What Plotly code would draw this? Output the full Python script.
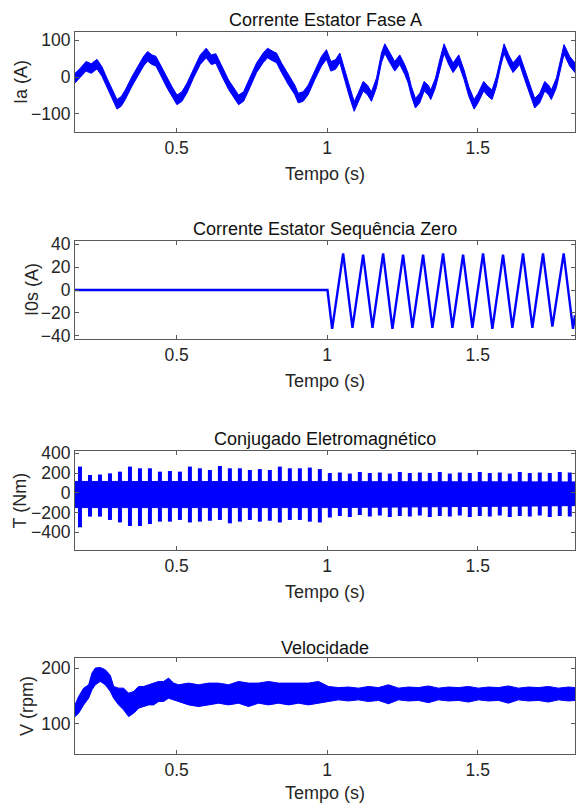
import plotly.graph_objects as go

# ------------------------------------------------------------------ data
# Panel 1: stator current phase A (centre of the band, A) and ripple half-width
ia_t = [0.1625, 0.1802, 0.1990, 0.2167, 0.2355, 0.2521, 0.2687, 0.2853, 0.3019, 0.3162,
        0.3295, 0.3516, 0.3738, 0.3904, 0.4036, 0.4180, 0.4313, 0.4457, 0.4678, 0.4844,
        0.5010, 0.5176, 0.5342, 0.5563, 0.5784, 0.5983, 0.6149, 0.6304, 0.6503, 0.6725,
        0.6946, 0.7057, 0.7223, 0.7433, 0.7654, 0.7875, 0.8019, 0.8207, 0.8318, 0.8484,
        0.8705, 0.8926, 0.9037, 0.9203, 0.9369, 0.9590, 0.9811, 0.9977, 1.0121, 1.0276,
        1.0420, 1.0586, 1.0752, 1.0896, 1.1029, 1.1194, 1.1338, 1.1471, 1.1637, 1.1803,
        1.1914, 1.2079, 1.2245, 1.2411, 1.2577, 1.2688, 1.2798, 1.2931, 1.3075, 1.3219,
        1.3351, 1.3440, 1.3595, 1.3739, 1.3882, 1.4037, 1.4181, 1.4369, 1.4546, 1.4701,
        1.4878, 1.5011, 1.5199, 1.5343, 1.5476, 1.5619, 1.5763, 1.5874, 1.6029, 1.6173,
        1.6394, 1.6560, 1.6726, 1.6891, 1.7058, 1.7224, 1.7356, 1.7445, 1.7611, 1.7755,
        1.7865, 1.8053, 1.8230]
ia_mid = [-3, 11, 29, 23, 35, 15, -16, -44, -74, -66,
          -48, -12, 20, 43, 56, 47, 43, 20, -16, -39,
          -62, -53, -30, 11, 47, 65, 47, 50, 15, -21,
          -48, -62, -53, -16, 25, 52, 65, 56, 52, 25,
          -7, -35, -57, -53, -35, 6, 43, 61, 29, 34,
          52, 6, -44, -80, -57, -25, -35, -53, -16, 52,
          77, 52, 29, 47, 20, -3, -39, -71, -57, -25,
          -35, -48, -16, 34, 77, 47, 25, 47, 6, -39,
          -74, -57, -25, -39, -48, -12, 43, 77, 47, 25,
          47, 6, -35, -71, -57, -25, -35, -48, -16, 34,
          75, 43, 25]
ia_ripple = 13

# Panel 2: zero-sequence stator current (A)
i0_t = [0.1625, 1.0010, 1.0165, 1.0530, 1.0840, 1.1194, 1.1504, 1.1858, 1.2167, 1.2521,
        1.2831, 1.3185, 1.3495, 1.3849, 1.4159, 1.4513, 1.4822, 1.5177, 1.5486, 1.5840,
        1.6150, 1.6504, 1.6814, 1.7168, 1.7478, 1.7854, 1.8164, 1.8230]
i0_val = [0, 0, -34, 32, -33, 31, -33, 32, -34, 31,
          -33, 31, -33, 32, -33, 31, -33, 32, -34, 31,
          -33, 32, -33, 32, -32, 32, -34, -22]

# Panel 3: electromagnetic torque – core band and spike tops / bottoms (Nm)
tq_core_t = [0.1625, 1.0000, 1.8230]
tq_core_hi = [115, 115, 110]
tq_core_lo = [-150, -150, -130]
tq_t = [0.1790, 0.2122, 0.2454, 0.2786, 0.3118, 0.3450, 0.3782, 0.4113, 0.4445, 0.4777,
        0.5109, 0.5441, 0.5773, 0.6105, 0.6437, 0.6769, 0.7101, 0.7432, 0.7764, 0.8096,
        0.8428, 0.8760, 0.9092, 0.9424, 0.9756, 1.0088, 1.0420, 1.0752, 1.1084, 1.1416,
        1.1748, 1.2080, 1.2412, 1.2744, 1.3076, 1.3408, 1.3740, 1.4072, 1.4404, 1.4736,
        1.5068, 1.5400, 1.5732, 1.6064, 1.6396, 1.6728, 1.7060, 1.7392, 1.7724, 1.8056]
tq_hi = [265, 180, 185, 197, 214, 265, 248, 248, 214, 220,
         214, 265, 248, 231, 271, 248, 248, 231, 240, 231,
         265, 248, 248, 255, 240, 200, 205, 195, 210, 200,
         205, 195, 210, 200, 205, 200, 210, 195, 205, 200,
         210, 200, 205, 195, 210, 200, 205, 200, 210, 205]
tq_lo = [-349, -241, -241, -275, -300, -336, -336, -316, -292, -292,
         -275, -300, -292, -283, -275, -309, -292, -275, -292, -283,
         -300, -275, -275, -292, -300, -250, -235, -245, -225, -240,
         -230, -245, -235, -240, -230, -245, -235, -240, -230, -245,
         -235, -240, -230, -245, -235, -240, -230, -245, -235, -240]

# Panel 4: speed band edges (rpm)
vel_t = [0.1625, 0.1746, 0.1912, 0.2078, 0.2189, 0.2299, 0.2465, 0.2631, 0.2797, 0.2908,
         0.3074, 0.3240, 0.3406, 0.3572, 0.3738, 0.3904, 0.4070, 0.4236, 0.4401, 0.4567,
         0.4733, 0.4899, 0.5065, 0.5397, 0.5729, 0.6061, 0.6393, 0.6725, 0.7057, 0.7389,
         0.7720, 0.8052, 0.8384, 0.8716, 0.9048, 0.9380, 0.9712, 1.0044, 1.0376, 1.0708,
         1.1040, 1.1372, 1.1704, 1.2036, 1.2368, 1.2700, 1.3032, 1.3364, 1.3696, 1.4028,
         1.4360, 1.4692, 1.5024, 1.5356, 1.5688, 1.6020, 1.6352, 1.6684, 1.7016, 1.7348,
         1.7680, 1.8012, 1.8230]
vel_hi = [134, 149, 164, 170, 191, 200, 201, 197, 187, 167,
          164, 164, 155, 158, 167, 167, 170, 173, 176, 176,
          182, 173, 170, 173, 170, 173, 173, 170, 176, 173,
          173, 176, 173, 173, 173, 173, 176, 167, 165, 166,
          164, 167, 165, 170, 164, 166, 165, 168, 164, 166,
          165, 167, 164, 166, 165, 168, 164, 166, 165, 167,
          164, 166, 165]
vel_lo = [113, 119, 134, 146, 161, 170, 176, 170, 158, 146,
          134, 125, 113, 119, 128, 131, 134, 134, 140, 140,
          146, 143, 140, 134, 131, 134, 137, 134, 137, 131,
          137, 134, 137, 134, 137, 134, 137, 140, 143, 141,
          143, 140, 142, 136, 143, 141, 142, 138, 143, 141,
          142, 139, 143, 141, 142, 137, 143, 141, 142, 139,
          143, 141, 142]

x_range = [0.1625, 1.823]
x_tickvals = [0.5, 1, 1.5]
x_ticktext = ["0.5", "1", "1.5"]

titles = ["Corrente Estator Fase A", "Corrente Estator Sequência Zero",
          "Conjugado Eletromagnético", "Velocidade"]
ylabels = ["Ia (A)", "I0s (A)", "T (Nm)", "V (rpm)"]
xlabel = "Tempo (s)"

y_ranges = [[-149, 122], [-42.8, 42.9], [-579, 423], [46, 218]]
y_ticks = [[-100, 0, 100], [-40, -20, 0, 20, 40], [-400, -200, 0, 200, 400], [100, 200]]

# ------------------------------------------------------------------ layout (pixels)
W, H = 576, 805
PX_LEFT, PX_RIGHT = 75, 575
PANEL_PX = [(32, 132), (241, 339), (451, 550), (658, 754)]
TITLE_Y = [20.5, 229, 439, 647.5]
XLABEL_Y = [173.5, 381, 591.5, None]
YLABEL_X = [21, 32, 20, 27]

BLUE = "#0000FF"
AXCOL = "#5a5a5a"
TXT = "#262626"
FONT = "Liberation Sans, Arial, Helvetica, sans-serif"
TICKSIZE = 17.5


def px_x(p):
    return p / W


def px_y(p):
    return 1 - p / H


fig = go.Figure()

# Panel 1 – band polygon
ia_up = [c + ia_ripple for c in ia_mid]
ia_dn = [c - ia_ripple for c in ia_mid]
fig.add_trace(go.Scatter(x=ia_t + ia_t[::-1], y=ia_up + ia_dn[::-1], fill="toself",
                         fillcolor=BLUE, line=dict(color=BLUE, width=1),
                         mode="lines", xaxis="x", yaxis="y", hoverinfo="skip"))

# Panel 2
fig.add_trace(go.Scatter(x=i0_t, y=i0_val, mode="lines",
                         line=dict(color=BLUE, width=2.4),
                         xaxis="x2", yaxis="y2", hoverinfo="skip"))

# Panel 3 – core band + vertical spike bars
fig.add_trace(go.Scatter(x=tq_core_t + tq_core_t[::-1], y=tq_core_hi + tq_core_lo[::-1],
                         fill="toself", fillcolor=BLUE, line=dict(color=BLUE, width=1),
                         mode="lines", xaxis="x3", yaxis="y3", hoverinfo="skip"))
bx, by = [], []
for t, hi, lo in zip(tq_t, tq_hi, tq_lo):
    bx += [t, t, None]
    by += [lo, hi, None]
fig.add_trace(go.Scatter(x=bx, y=by, mode="lines", line=dict(color=BLUE, width=4),
                         xaxis="x3", yaxis="y3", hoverinfo="skip", connectgaps=False))

# Panel 4
fig.add_trace(go.Scatter(x=vel_t + vel_t[::-1], y=vel_hi + vel_lo[::-1], fill="toself",
                         fillcolor=BLUE, line=dict(color=BLUE, width=1),
                         mode="lines", xaxis="x4", yaxis="y4", hoverinfo="skip"))

layout = dict(width=W, height=H, margin=dict(l=0, r=0, t=0, b=0, autoexpand=False),
              paper_bgcolor="white", plot_bgcolor="white", showlegend=False,
              font=dict(family=FONT, color=TXT, size=17))

annotations = []
for k in range(4):
    sfx = "" if k == 0 else str(k + 1)
    top, bot = PANEL_PX[k]
    layout["xaxis" + sfx] = dict(
        domain=[px_x(PX_LEFT), px_x(PX_RIGHT)], range=x_range, anchor="y" + sfx,
        tickvals=x_tickvals, ticktext=x_ticktext, ticks="inside", ticklen=4,
        tickcolor=AXCOL, showline=True, linecolor=AXCOL, linewidth=1, mirror="ticks",
        showgrid=False, zeroline=False,
        tickfont=dict(size=TICKSIZE, color=TXT, family=FONT),
        ticklabelstandoff=0, automargin=False)
    layout["yaxis" + sfx] = dict(
        domain=[px_y(bot), px_y(top)], range=y_ranges[k], anchor="x" + sfx,
        tickvals=y_ticks[k], ticks="inside", ticklen=4, tickcolor=AXCOL,
        showline=True, linecolor=AXCOL, linewidth=1, mirror="ticks",
        showgrid=False, zeroline=False,
        tickfont=dict(size=TICKSIZE, color=TXT, family=FONT),
        ticklabelstandoff=0, automargin=False)
    cx = px_x((PX_LEFT + PX_RIGHT) / 2)
    annotations.append(dict(text=titles[k], x=cx, y=px_y(TITLE_Y[k]), xref="paper",
                            yref="paper", xanchor="center", yanchor="middle",
                            showarrow=False, font=dict(size=18, color="#111111", family=FONT)))
    if XLABEL_Y[k] is None:
        annotations.append(dict(text=xlabel, x=cx, y=0, xref="paper", yref="paper",
                                xanchor="center", yanchor="bottom", showarrow=False,
                                font=dict(size=18, color=TXT, family=FONT)))
    else:
        annotations.append(dict(text=xlabel, x=cx, y=px_y(XLABEL_Y[k]), xref="paper",
                                yref="paper", xanchor="center", yanchor="middle",
                                showarrow=False, font=dict(size=18, color=TXT, family=FONT)))
    annotations.append(dict(text=ylabels[k], x=px_x(YLABEL_X[k]),
                            y=px_y((top + bot) / 2), xref="paper", yref="paper",
                            xanchor="center", yanchor="middle", textangle=-90,
                            showarrow=False, font=dict(size=18, color=TXT, family=FONT)))

layout["annotations"] = annotations
fig.update_layout(**layout)
fig.write_html("out.html", config={"displayModeBar": False},
               post_script="document.body.style.margin='0';document.body.style.padding='0';")
